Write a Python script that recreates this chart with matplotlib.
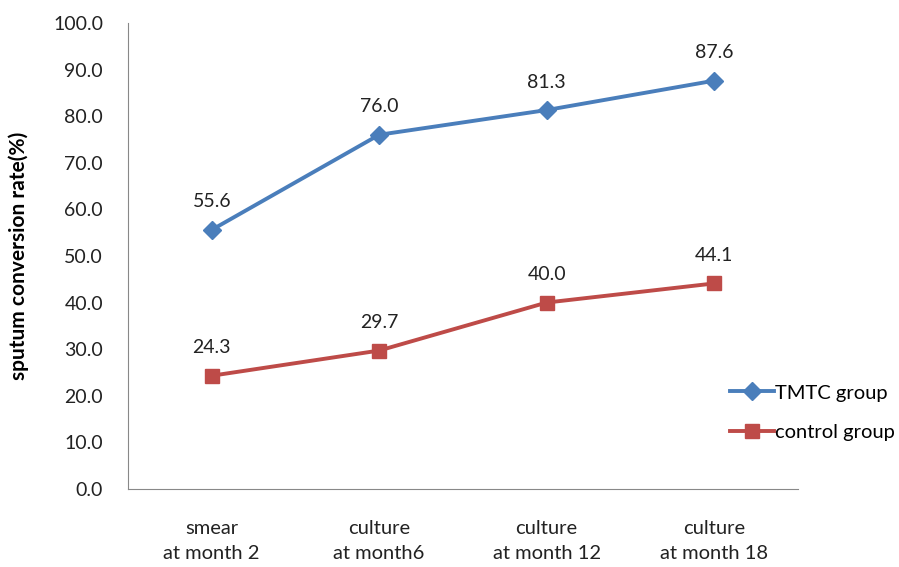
import numpy as np
from matplotlib import pyplot as plt

categories = ['smear\nat month 2', 'culture\nat month6', 'culture\nat month 12', 'culture\nat month 18']
tmtc = [55.6, 76.0, 81.3, 87.6]
control = [24.3, 29.7, 40.0, 44.1]
yticks = np.arange(0, 101, 10)

plt.rcParams['font.family'] = ['Lato', 'DejaVu Sans']

fig = plt.figure(figsize=(8.99, 5.67), dpi=100)
ax = fig.add_axes([0.1424, 0.1376, 0.745, 0.822])

x = np.arange(len(categories))
ax.plot(x, tmtc, color='#4A7EBB', lw=2.8, marker='D', ms=9, label='TMTC group')
ax.plot(x, control, color='#BE4B48', lw=2.8, marker='s', ms=10.5, label='control group')

for xi, v in zip(x, tmtc):
    ax.annotate('%.1f' % v, (xi, v), xytext=(0, 14), textcoords='offset points',
                ha='center', va='bottom', fontsize=14, color='#222222')
for xi, v in zip(x, control):
    ax.annotate('%.1f' % v, (xi, v), xytext=(0, 14), textcoords='offset points',
                ha='center', va='bottom', fontsize=14, color='#222222')

ax.set_xlim(-0.5, 3.5)
ax.set_ylim(0, 100)
ax.set_yticks(yticks)
ax.set_yticklabels(['%.1f' % t for t in yticks], fontsize=14, color='#222222')
ax.set_xticks(x)
ax.set_xticklabels(categories, fontsize=14.5, color='#222222', linespacing=1.6)
ax.tick_params(length=0)
ax.tick_params(axis='y', pad=18)
ax.tick_params(axis='x', pad=22)
for s in ['top', 'right']:
    ax.spines[s].set_visible(False)
for s in ['left', 'bottom']:
    ax.spines[s].set_color('#888888')
ax.set_ylabel('sputum conversion rate(%)', fontsize=15, fontweight='bold')
ax.yaxis.set_label_coords(-0.148, 0.5)

fig.legend(loc='upper left', bbox_to_anchor=(0.812, 0.322), frameon=False, fontsize=14.5,
           handlelength=2.2, labelspacing=1.1, handletextpad=0.05, borderpad=0,
           borderaxespad=0)

fig.savefig('out.png', dpi=100)
